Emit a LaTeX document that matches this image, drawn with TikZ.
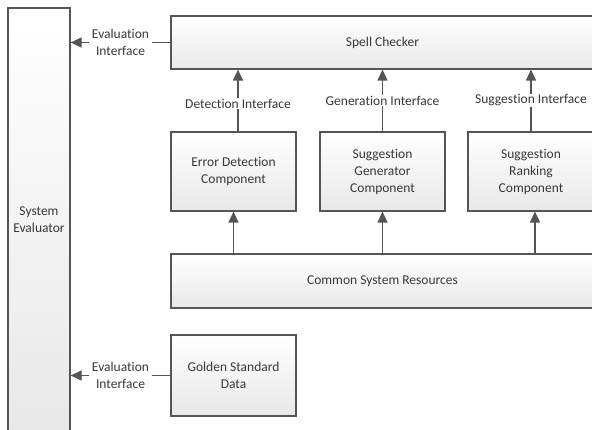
\documentclass[tikz,border=0pt]{standalone}
\usepackage{fontspec}
\setmainfont{Carlito}[Ligatures=NoCommon]
\usetikzlibrary{arrows.meta}
\definecolor{boxline}{HTML}{555555}
\definecolor{txt}{HTML}{383838}
\begin{document}
\begin{tikzpicture}[x=1pt,y=-1pt,
  box/.style={draw=boxline, line width=1.2pt, top color=white, bottom color=black!9,
    text=txt, align=center, inner sep=0pt, font=\fontsize{13.5}{17}\selectfont},
  conn/.style={draw=boxline, line width=1.2pt, -{Triangle[length=11pt,width=10pt]}},
  lbl/.style={fill=white, text=txt, align=center, inner xsep=3pt, inner ysep=1pt,
    font=\fontsize{13.5}{17}\selectfont}]
\path[use as bounding box] (0,0) rectangle (592,430);
\clip (0,0) rectangle (592,430);

\node[box, minimum width=62pt, minimum height=424pt] (se) at (39,220) {System\\Evaluator};
\node[box, minimum width=423pt, minimum height=53pt] (sc) at (382.5,42.5) {Spell Checker};
\node[box, minimum width=125pt, minimum height=79pt] (ed) at (233.5,171.5) {Error Detection\\Component};
\node[box, minimum width=125pt, minimum height=79pt] (sg) at (382.5,171.5) {Suggestion\\Generator\\Component};
\node[box, minimum width=126pt, minimum height=79pt] (sr) at (531,171.5) {Suggestion\\Ranking\\Component};
\node[box, minimum width=423pt, minimum height=54pt] (cs) at (382.5,281) {Common System Resources};
\node[box, minimum width=125pt, minimum height=81pt] (gs) at (233.5,375.5) {Golden Standard\\Data};

\draw[conn] (sc.west) -- node[lbl] {Evaluation\\Interface} (se.east |- sc.west);
\draw[conn] (gs.west) -- node[lbl] {Evaluation\\Interface} (se.east |- gs.west);

\draw[conn] ([xshift=4.5pt]ed.north) -- node[lbl, pos=0.45] {Detection Interface} ([xshift=4.5pt]ed.north |- sc.south);
\draw[conn] (sg.north) -- node[lbl, pos=0.5] {Generation Interface} (sg.north |- sc.south);
\draw[conn] (sr.north) -- node[lbl, pos=0.5] {Suggestion Interface} (sr.north |- sc.south);

\draw[conn] (ed.south |- cs.north) -- (ed.south);
\draw[conn] (sg.south |- cs.north) -- (sg.south);
\draw[conn] ([xshift=4pt]sr.south |- cs.north) -- ([xshift=4pt]sr.south);
\end{tikzpicture}
\end{document}
